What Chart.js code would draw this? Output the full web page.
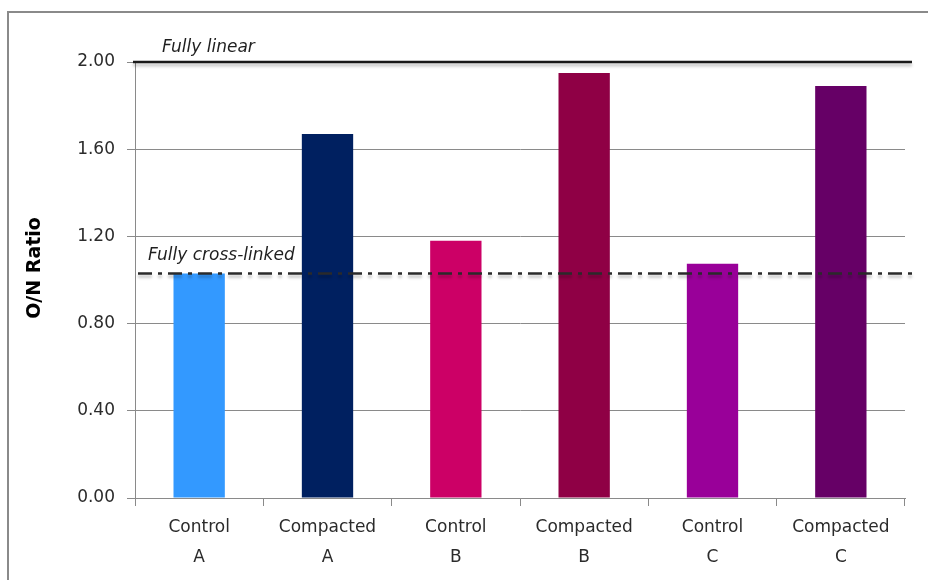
<!DOCTYPE html>
<html>
<head>
<meta charset="utf-8">
<script src="https://cdn.jsdelivr.net/npm/chart.js@4.4.1/dist/chart.umd.min.js"></script>
<style>
  html, body { margin: 0; padding: 0; background: #fff; }
  #wrap { width: 928px; height: 580px; }
</style>
</head>
<body>
<div id="wrap"><canvas id="c" width="928" height="580"></canvas></div>
<script>
// ---- data ----
const categories = [["Control", "A"], ["Compacted", "A"], ["Control", "B"], ["Compacted", "B"], ["Control", "C"], ["Compacted", "C"]];
const onRatio = [1.03, 1.67, 1.18, 1.95, 1.075, 1.89];
const barColors = ["#3399FF", "#002060", "#CC0066", "#8F0045", "#990099", "#660066"];
const yTicks = [0.00, 0.40, 0.80, 1.20, 1.60, 2.00];
const fullyLinearValue = 2.00;
const fullyLinearLabel = "Fully linear";
const fullyCrossLinkedValue = 1.03;
const fullyCrossLinkedLabel = "Fully cross-linked";
const yAxisTitle = "O/N Ratio";

const FONT = "'DejaVu Sans', sans-serif";

const decorPlugin = {
  id: 'decor',
  beforeDraw(chart) {
    const ctx = chart.ctx;
    ctx.save();
    ctx.fillStyle = '#fff';
    ctx.fillRect(0, 0, chart.width, chart.height);
    ctx.strokeStyle = '#8a8a8a';
    ctx.lineWidth = 2;
    ctx.strokeRect(8, 12, 1200, 1200);
    ctx.restore();
  },
  afterDatasetsDraw(chart) {
    const ctx = chart.ctx;
    const y = chart.scales.y;
    const area = chart.chartArea;
    ctx.save();
    // Fully linear line
    const yl = y.getPixelForValue(fullyLinearValue);
    ctx.shadowColor = 'rgba(0,0,0,0.25)';
    ctx.shadowBlur = 3;
    ctx.shadowOffsetY = 3;
    ctx.strokeStyle = '#1a1a1a';
    ctx.lineWidth = 2.5;
    ctx.beginPath();
    ctx.moveTo(area.left - 2, yl);
    ctx.lineTo(area.right + 7, yl);
    ctx.stroke();
    // Fully cross-linked line
    const yc = y.getPixelForValue(fullyCrossLinkedValue);
    ctx.strokeStyle = '#2a2a2a';
    ctx.setLineDash([14, 6, 4, 6]);
    ctx.beginPath();
    ctx.moveTo(area.left + 3, yc);
    ctx.lineTo(area.right + 10, yc);
    ctx.stroke();
    ctx.setLineDash([]);
    ctx.shadowColor = 'transparent';
    // labels
    ctx.fillStyle = '#1f1f1f';
    ctx.font = "italic 17px " + FONT;
    ctx.textBaseline = 'middle';
    ctx.textAlign = 'left';
    ctx.fillText(fullyLinearLabel, area.left + 27, yl - 14);
    ctx.fillText(fullyCrossLinkedLabel, area.left + 13, yc - 18);
    // y title
    ctx.font = "bold 19px " + FONT;
    ctx.fillStyle = '#000';
    ctx.translate(35, 268);
    ctx.rotate(-Math.PI / 2);
    ctx.textAlign = 'center';
    ctx.fillText(yAxisTitle, 0, 0);
    ctx.restore();
  }
};

new Chart(document.getElementById('c'), {
  type: 'bar',
  data: {
    labels: categories,
    datasets: [{
      data: onRatio,
      backgroundColor: barColors,
      borderWidth: 0,
      barPercentage: 0.4,
      categoryPercentage: 1.0
    }]
  },
  options: {
    responsive: false,
    animation: false,
    devicePixelRatio: 1,
    layout: { padding: { top: 62, right: 23, left: 0, bottom: 0 } },
    plugins: { legend: { display: false }, tooltip: { enabled: false } },
    scales: {
      x: {
        afterFit: s => { s.height = 82; },
        grid: { drawOnChartArea: false, color: '#8a8a8a', tickLength: 8, offset: true },
        border: { color: '#8a8a8a', width: 1 },
        ticks: { color: '#2b2b2b', font: { family: FONT, size: 17, lineHeight: 1.75 }, padding: 7, maxRotation: 0 }
      },
      y: {
        min: 0,
        max: 2,
        afterFit: s => { s.width = 135; },
        afterBuildTicks: s => { s.ticks = yTicks.map(v => ({ value: v })); },
        grid: { color: '#8a8a8a', tickLength: 8 },
        border: { color: '#8a8a8a', width: 1 },
        ticks: { color: '#2b2b2b', font: { family: FONT, size: 17 }, padding: 12,
                 callback: v => Number(v).toFixed(2) }
      }
    }
  },
  plugins: [decorPlugin]
});
</script>
</body>
</html>
